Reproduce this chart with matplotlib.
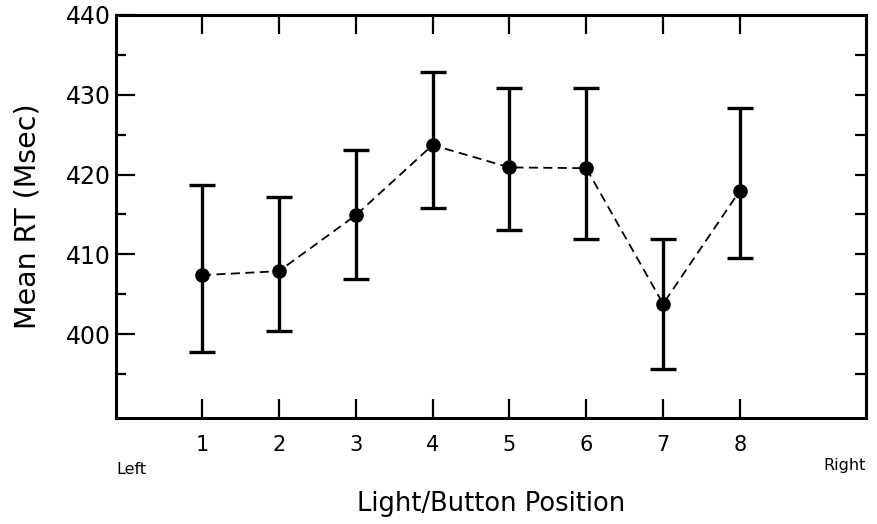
import matplotlib.pyplot as plt
from matplotlib.ticker import FixedLocator

positions = [1, 2, 3, 4, 5, 6, 7, 8]
mean_rt = [407.4, 407.9, 414.9, 423.7, 420.9, 420.8, 403.8, 418.0]
upper = [418.7, 417.2, 423.1, 432.9, 430.9, 430.9, 411.9, 428.3]
lower = [397.8, 400.4, 406.9, 415.8, 413.0, 411.9, 395.7, 409.5]

err_lo = [m - l for m, l in zip(mean_rt, lower)]
err_hi = [u - m for m, u in zip(mean_rt, upper)]

plt.rcParams['font.family'] = ['DejaVu Sans']

fig = plt.figure(figsize=(8.78, 5.24), dpi=100)
ax = fig.add_axes([0.1321, 0.2023, 0.8542, 0.7691])

ax.plot(positions, mean_rt, color='black', lw=1.3, linestyle=(0, (5, 3)), zorder=2)
ax.errorbar(positions, mean_rt, yerr=[err_lo, err_hi], fmt='o', color='black',
            markersize=9.5, elinewidth=2.4, capsize=9.5, capthick=2.4, zorder=3)

ax.set_xlim(-0.12, 9.64)
ax.set_ylim(389.5, 440)
ax.set_xticks(positions)
ax.set_yticks([400, 410, 420, 430, 440])
ax.yaxis.set_minor_locator(FixedLocator([395, 405, 415, 425, 435]))

for s in ax.spines.values():
    s.set_linewidth(2.2)

ax.tick_params(axis='x', which='major', direction='in', length=14, width=1.6,
               top=True, labelsize=15, pad=12)
ax.tick_params(axis='y', which='major', direction='in', length=14, width=1.6,
               labelsize=17, pad=4)
ax.tick_params(axis='y', which='minor', direction='in', length=7, width=1.6)

# short ticks every 5 msec on the right edge
sec = ax.secondary_yaxis('right')
sec.yaxis.set_major_locator(FixedLocator([395, 400, 405, 410, 415, 420, 425, 430, 435]))
sec.tick_params(direction='in', length=8, width=1.6, labelright=False)
sec.spines['right'].set_linewidth(2.2)

ax.set_xlabel('Light/Button Position', fontsize=18.5, labelpad=26)
ax.set_ylabel('Mean RT (Msec)', fontsize=20.5, labelpad=17)

ax.text(0.0, -0.11, 'Left', transform=ax.transAxes, fontsize=11.5,
        ha='left', va='top')
ax.text(1.0, -0.10, 'Right', transform=ax.transAxes, fontsize=11.5,
        ha='right', va='top')

fig.savefig('out.png', dpi=100)
